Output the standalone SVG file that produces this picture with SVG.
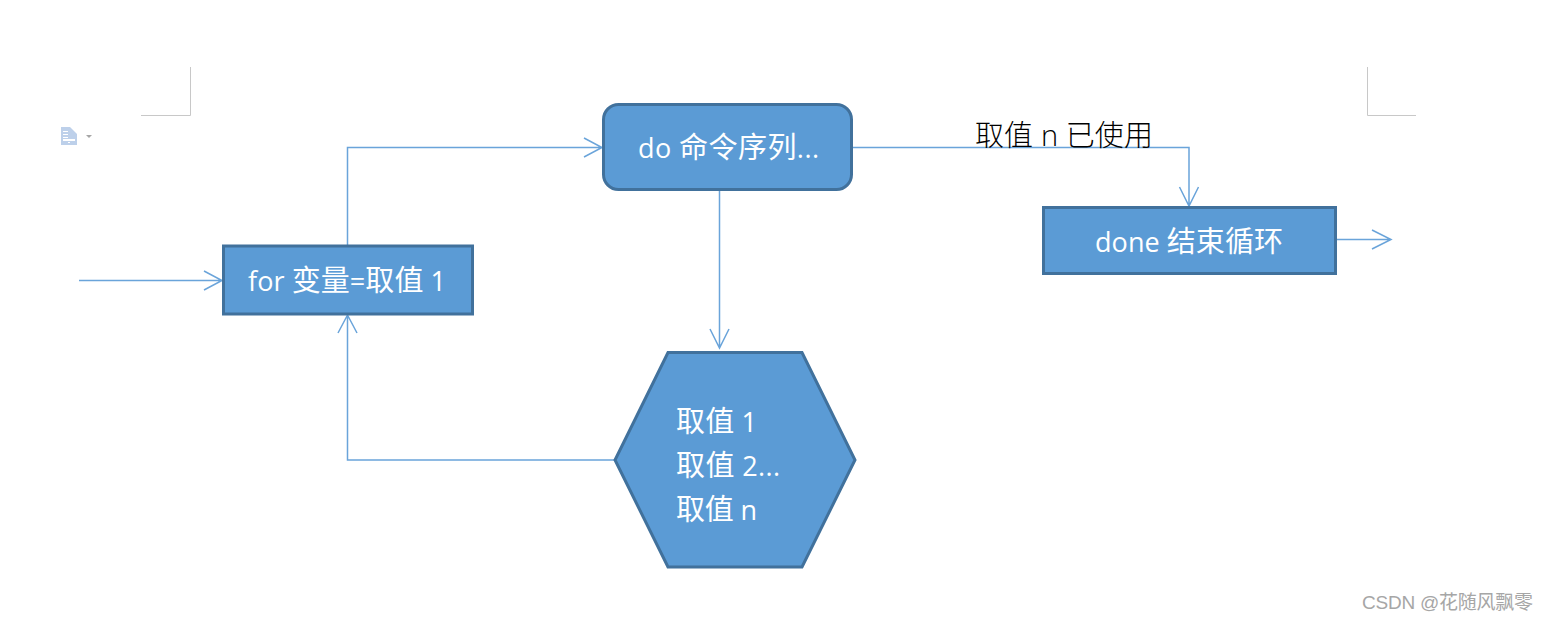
<svg xmlns="http://www.w3.org/2000/svg" width="1548" height="621" viewBox="0 0 1548 621">
<style>
.s{fill:#5b9bd5;stroke:#41719c;stroke-width:3}
.c{fill:none;stroke:#6aa4da;stroke-width:1.5}
.m{fill:none;stroke:#c8c8c8;stroke-width:1}
text{font-family:"Open Sans","Noto Sans CJK SC",sans-serif}
.t{fill:#fff;font-size:27px}
.k{font-size:29px}
.w{font-family:"Liberation Sans","Noto Sans CJK SC",sans-serif;font-size:19px;fill:#a6a6a6}
</style>
<rect width="1548" height="621" fill="#fff"/>
<g id="page-marks">
<path class="m" d="M141 115.500H190.500V67M1416 115.500H1367.500V67"/>
<path fill="#bdd0ea" d="M61 127H70L77 134V145H61Z"/>
<path fill="#fff" d="M63 131H68V132H63ZM63 134H68V135H63ZM63 137H68V138H63ZM63 139H75V141H63ZM68 142H70V143H68Z"/>
<path fill="#a6a6a6" d="M86 135H92L89 138Z"/>
</g>
<g id="connectors" class="c">
<path d="M79 280.500H222M204 271L222 280.500L204 290"/>
<path d="M347.500 245V147.500H602M584 138L602 147.500L584 157"/>
<path d="M853 147.500H1189V206M1179.500 187L1189 206L1198.500 187"/>
<path d="M1337 239.500H1391M1372 230L1391 239.500L1372 249"/>
<path d="M719.500 190V348M710 329L719.500 348L729 329"/>
<path d="M615 460H347.500V315M338 333L347.500 315L357 333"/>
</g>
<g id="node-for">
<rect class="s" x="223.500" y="246" width="249" height="68"/>
<text class="t" x="248" y="291" textLength="198">for <tspan class="k">变量</tspan>=<tspan class="k">取值</tspan> 1</text>
</g>
<g id="node-do">
<rect class="s" x="603.500" y="104.500" width="248" height="85" rx="15"/>
<text class="t" x="638" y="158" textLength="181">do <tspan class="k">命令序列</tspan>...</text>
</g>
<g id="node-done">
<rect class="s" x="1043.500" y="207.500" width="292" height="66"/>
<text class="t" x="1095" y="252" textLength="188">done <tspan class="k">结束循环</tspan></text>
</g>
<g id="node-values">
<path class="s" d="M668 352.500H802L855 460L802 567H668L615 460Z"/>
<text class="t" x="676" y="432" textLength="81"><tspan class="k">取值</tspan> 1</text>
<text class="t" x="676" y="476" textLength="104"><tspan class="k">取值</tspan> 2...</text>
<text class="t" x="676" y="520" textLength="81"><tspan class="k">取值</tspan> n</text>
</g>
<g id="label-used">
<text x="975" y="146" font-size="29" fill="#000" font-weight="300" textLength="178">取值 n 已使用</text>
</g>
<text class="w" x="1362" y="609" textLength="171">CSDN @花随风飘零</text>
</svg>
